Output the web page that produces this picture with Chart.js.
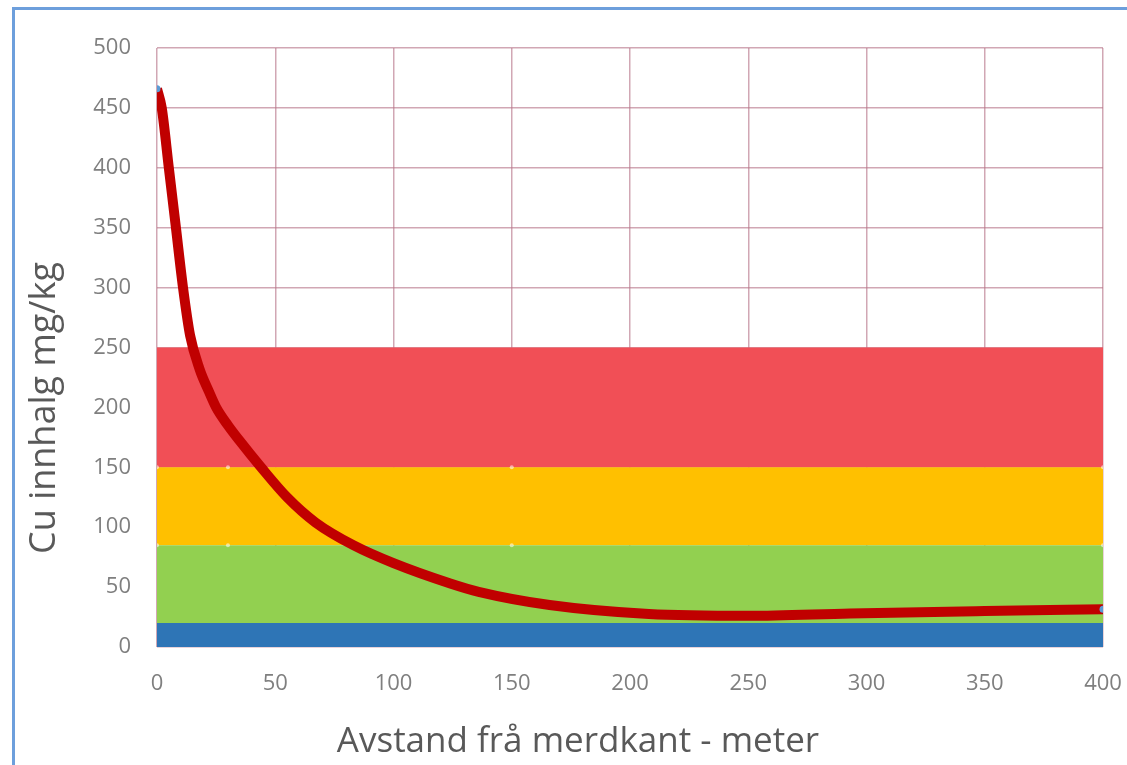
<!DOCTYPE html>
<html>
<head>
<meta charset="utf-8">
<title>Cu innhald</title>
<script src="https://cdn.jsdelivr.net/npm/chart.js@4.4.1/dist/chart.umd.min.js"></script>
<style>
  html, body { margin: 0; padding: 0; background: #fff; overflow: hidden; }
  #cuChart { position: absolute; left: 0; top: 0; }
  #frame {
    position: absolute; left: 12px; top: 7px; width: 1300px; height: 900px;
    border: 3px solid #6d9fdc; pointer-events: none;
  }
</style>
</head>
<body>
<canvas id="cuChart" width="1127" height="765"></canvas>
<div id="frame"></div>
<script>
// curve (distance in metres, Cu mg/kg)
const distance = [0, 2, 5, 8, 11, 14, 18, 22, 25, 30, 35, 44, 55, 67, 83, 100, 124, 136, 166, 208, 250, 293, 350, 400];
const cuValues = [466, 450, 400, 350, 300, 260, 232, 213, 200, 185, 172, 150, 125, 104, 85, 70, 53, 46, 35, 27.5, 26, 28, 30, 31.5];

// class limits (upper edge of each band)
const bandX = [0, 30, 150, 400];
const bandLimits = [20, 85, 150, 250];
const bandColors = ["#2e75b6", "#92d050", "#ffc000", "#f14f56"];

const xTicks = [0, 50, 100, 150, 200, 250, 300, 350, 400];
const yTicks = [0, 50, 100, 150, 200, 250, 300, 350, 400, 450, 500];

const xTitle = "Avstand frå merdkant - meter";
const yTitle = "Cu innhalg mg/kg";

const FONT = "'Open Sans', 'Liberation Sans', sans-serif";

function pts(xs, ys) {
  return xs.map((x, i) => ({ x: x, y: Array.isArray(ys) ? ys[i] : ys }));
}

const lastIdx = distance.length - 1;

const datasets = [{
  label: "Cu",
  data: pts(distance, cuValues),
  borderColor: "#c00000",
  borderWidth: 10,
  cubicInterpolationMode: "monotone",
  fill: false,
  pointRadius: ctx => (ctx.dataIndex === 0 || ctx.dataIndex === lastIdx ? 3.5 : 0),
  pointBackgroundColor: "#5b9bd5",
  pointBorderWidth: 0,
  order: 0
}];

bandLimits.forEach((lim, i) => {
  datasets.push({
    label: "band" + i,
    data: pts(bandX, lim),
    borderWidth: 0,
    borderColor: "rgba(0,0,0,0)",
    backgroundColor: bandColors[i],
    fill: i === 0 ? "origin" : i, // fill down to the band below (dataset index i)
    pointRadius: (i === 1 || i === 2) ? 2 : 0,
    pointBackgroundColor: "rgba(255,255,255,0.55)",
    pointBorderWidth: 0,
    order: 1 + i
  });
});

const titlePlugin = {
  id: "axisTitles",
  afterDraw(chart) {
    const ctx = chart.ctx;
    ctx.save();
    ctx.fillStyle = "#595959";
    ctx.textAlign = "center";
    ctx.textBaseline = "middle";
    ctx.font = "35px " + FONT;
    ctx.fillText(xTitle, 578, 742);
    ctx.font = "36px " + FONT;
    ctx.translate(45, 408);
    ctx.rotate(-Math.PI / 2);
    ctx.fillText(yTitle, 0, 0);
    ctx.restore();
  }
};

new Chart(document.getElementById("cuChart"), {
  type: "line",
  data: { datasets: datasets },
  plugins: [titlePlugin],
  options: {
    responsive: false,
    animation: false,
    layout: { padding: { left: 0, right: 24, top: 48, bottom: 0 } },
    plugins: { legend: { display: false }, tooltip: { enabled: false } },
    scales: {
      x: {
        type: "linear",
        min: 0,
        max: 400,
        afterBuildTicks: s => { s.ticks = xTicks.map(v => ({ value: v })); },
        afterFit: s => { s.height = 118; s.paddingLeft = 0; s.paddingRight = 0; },
        grid: { color: "rgba(185,120,140,0.65)", lineWidth: 1.5, drawTicks: false },
        border: { display: false },
        ticks: { padding: 24, color: "#7f7f7f", font: { family: FONT, size: 22 } }
      },
      y: {
        min: 0,
        max: 500,
        afterBuildTicks: s => { s.ticks = yTicks.map(v => ({ value: v })); },
        afterFit: s => { s.width = 157; },
        grid: { color: "rgba(185,120,140,0.65)", lineWidth: 1.5, drawTicks: false },
        border: { display: false },
        ticks: { padding: 26, color: "#7f7f7f", font: { family: FONT, size: 22 } }
      }
    }
  }
});
</script>
</body>
</html>
